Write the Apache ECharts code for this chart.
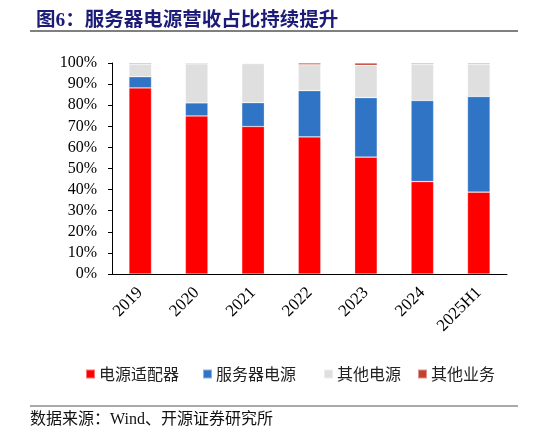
<!DOCTYPE html>
<html><head><meta charset="utf-8">
<script src="https://cdn.jsdelivr.net/npm/echarts@6/dist/echarts.min.js"></script>
<style>html,body{margin:0;padding:0;background:#fff}#c{width:546px;height:436px}</style>
</head><body><div id="c"></div>
<script>
const categories = ['2019','2020','2021','2022','2023','2024','2025H1'];
const adapter = [88.2,74.9,69.9,65.0,55.4,43.8,38.8];
const server = [5.3,6.2,11.3,21.9,28.2,38.4,45.3];
const otherPower = [6.0,18.5,18.5,12.3,15.3,17.3,15.4];
const otherBiz = [0.5,0.4,0.3,0.8,1.1,0.5,0.5];
const seriesNames = ['电源适配器','服务器电源','其他电源','其他业务'];
const seriesColors = ['#FF0000','#3074C5','#DFDFDF','#C4402F'];
const yTicks = [0,10,20,30,40,50,60,70,80,90,100];

const serif = "'Liberation Serif','Times New Roman',serif";
const cjk = "'Noto Sans CJK SC',sans-serif";
const chart = echarts.init(document.getElementById('c'));
const dataSets = [adapter, server, otherPower, otherBiz];
const legendLefts = [80, 197, 318, 412];
chart.setOption({
  animation: false,
  title: {
    text: '图6：服务器电源营收占比持续提升',
    left: 31, top: 6,
    textStyle: {color: '#1C1C78', fontSize: 19.5, fontWeight: 'bold', fontFamily: "'Liberation Serif','Noto Sans CJK SC',serif"}
  },
  legend: seriesNames.map((n, i) => ({
    data: [n], left: legendLefts[i], top: 361,
    itemWidth: 9, itemHeight: 9, itemGap: 0,
    icon: 'rect',
    textStyle: {fontSize: 16, color: '#222', fontFamily: cjk, padding: [0,0,0,-1]}
  })),
  grid: {left: 112, right: 39, top: 63, bottom: 162, containLabel: false},
  xAxis: {
    type: 'category', data: categories,
    axisLine: {lineStyle: {color: '#000', width: 1}},
    axisTick: {inside: true, length: 5, lineStyle: {color: '#777'}},
    axisLabel: {rotate: 45, fontSize: 17, color: '#000', fontFamily: serif, margin: 16, interval: 0}
  },
  yAxis: {
    type: 'value', min: yTicks[0], max: yTicks[yTicks.length-1], interval: 10,
    axisLine: {show: true, lineStyle: {color: '#000'}},
    axisTick: {show: true, length: 4, lineStyle: {color: '#000'}},
    splitLine: {show: false},
    axisLabel: {formatter: '{value}%', fontSize: 16, color: '#000', fontFamily: serif, margin: 15}
  },
  series: seriesNames.map((n, i) => ({
    name: n, type: 'bar', stack: 'total', data: dataSets[i], barWidth: '40%',
    itemStyle: {color: seriesColors[i], borderColor: 'rgba(255,255,255,0.45)', borderWidth: 0.6}
  })),
  graphic: [
    {type: 'line', shape: {x1: 30, y1: 31, x2: 518, y2: 31}, style: {stroke: '#000', lineWidth: 1}},
    {type: 'line', shape: {x1: 30, y1: 406, x2: 518, y2: 406}, style: {stroke: '#555', lineWidth: 1}},
    {type: 'text', left: 30, top: 412, style: {text: '数据来源：Wind、开源证券研究所', fontSize: 16, fill: '#111', fontFamily: "'Liberation Serif','Noto Sans CJK SC',serif"}}
  ]
});
</script></body></html>
